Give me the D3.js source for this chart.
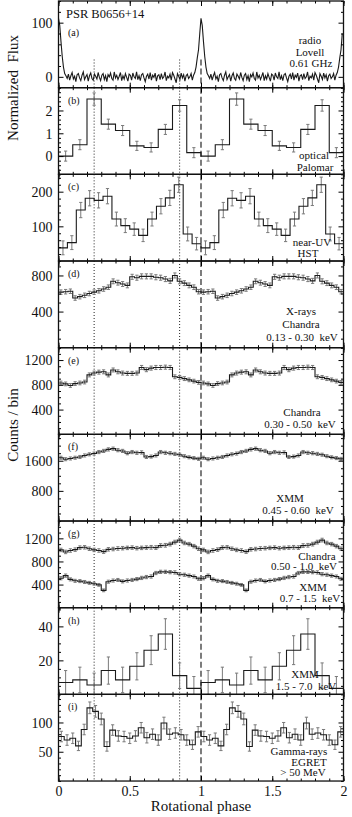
<!DOCTYPE html>
<html>
<head>
<meta charset="UTF-8">
<title>PSR B0656+14 pulse profiles</title>
<style>
  body { margin: 0; background: #fff; }
  svg text { font-family: "Liberation Serif", "DejaVu Serif", serif; fill: #111; }
  .band { font-size: 11px; white-space: pre; text-anchor: middle; }
  .panel-id { font-size: 10px; }
  .axis-title { font-size: 15px; text-anchor: middle; white-space: pre; }
  .frame { fill: none; stroke: #111; stroke-width: 1.3; }
  .hist { fill: none; stroke: #1a1a1a; stroke-width: 1.1; }
  .err { stroke: #7a7a7a; stroke-width: 1; }
</style>
<script src="https://d3js.org/d3.v7.min.js"></script>
</head>
<body>
<div id="chart"></div>
<script>
// phase axis
const phaseTicks = [0, 0.5, 1, 1.5, 2];
const phaseTickLabels = ["0", "0.5", "1", "1.5", "2"];
const dottedPhases = [0.25, 0.85];
const dashedPhase = 1;

// (a) radio, Lovell 0.61 GHz -- one rotation, drawn twice
const radioFlux = [108, 95, 65, 38, 18, 6, 2,
  -3, 5, -6, 2, 8, -4, 1, -9, 4, 6, -2, -7, 3, 9, -5, 0, 4, -8, 2, 7, -3, -6, 5,
  1, -4, 8, -1, -7, 3, 6, -5, 2, -9, 4, 0, 7, -3, -6, 9, -2, 3, -5, 1, 8, -7,
  2, -4, 6, -1, -8, 5, 3, -6, 7, 0, -3, 9, -5, 2, -7, 4, 6, -2, -9, 1, 5, -4,
  8, -6, 3, -1, 7, -8, 2, 4, -5, 6, -3, 0, 9, -7, 1, -2, 5, -6, 8, 3, -4, -11,
  6, 1, -5, 7, -2, 4, -8, 2, 5, -3, 0, 6, -6,
  3, 8, 18, 35, 50, 80];

// (b) optical, Palomar
const opticalFlux = [0, 0.5, 2.5, 1.4, 1.12, 0.45, 0.38, 1.17, 2.22, 0.15];
const opticalErr  = [0.22, 0.22, 0.27, 0.22, 0.22, 0.2, 0.2, 0.22, 0.25, 0.22];

// (c) near-UV, HST
const nuvCounts = [38, 53, 147, 181, 175, 187, 121, 102, 92, 74, 121, 158, 182, 220, 78, 50];
const nuvErr    = [20, 20, 22, 22, 22, 22, 20, 20, 18, 18, 20, 22, 22, 22, 20, 18];

// (d) Chandra 0.13 - 0.30 keV
const chandraSoft = [615, 620, 625, 550, 565, 580, 600, 615, 630, 650, 670, 735, 720, 705, 690,
  785, 775, 790, 790, 790, 780, 775, 760, 740, 800, 735, 715, 690, 670, 620];
const chandraSoftErr = [25, 25, 25, 25, 25, 25, 25, 25, 25, 25, 25, 27, 27, 27, 27,
  28, 28, 28, 28, 28, 28, 28, 28, 28, 28, 28, 27, 27, 26, 25];

// (e) Chandra 0.30 - 0.50 keV
const chandraMid = [830, 815, 790, 820, 830, 845, 960, 990, 1005, 1010, 960, 1040, 1010, 990, 985,
  985, 990, 1080, 1045, 1070, 1080, 1080, 1085, 1080, 930, 920, 900, 880, 860, 840];
const chandraMidErr = [30, 30, 30, 30, 30, 30, 32, 32, 32, 32, 32, 32, 32, 32, 32,
  32, 32, 33, 33, 33, 33, 33, 33, 33, 31, 31, 31, 30, 30, 30];

// (f) XMM 0.45 - 0.60 keV
const xmmSoft = [1680, 1640, 1660, 1680, 1700, 1740, 1770, 1790, 1830, 1860, 1900, 1920, 1880, 1860, 1800,
  1830, 1810, 1820, 1700, 1710, 1740, 1830, 1810, 1800, 1780, 1760, 1720, 1690, 1670, 1650];
const xmmSoftErr = [40, 40, 40, 40, 40, 40, 40, 40, 42, 42, 42, 42, 42, 42, 42,
  42, 42, 42, 40, 40, 40, 42, 42, 42, 42, 40, 40, 40, 40, 40];

// (g) Chandra 0.50 - 1.0 keV and XMM 0.7 - 1.5 keV
const chandraHard = [1000, 965, 990, 1005, 1040, 1045, 1020, 1000, 990, 970, 1010, 1015, 1025, 1030, 1035,
  1040, 1030, 1035, 1040, 1045, 1040, 1075, 1080, 1100, 1135, 1170, 1120, 1100, 1065, 1020];
const chandraHardErr = [30, 30, 30, 30, 30, 30, 30, 30, 30, 30, 30, 30, 30, 30, 30,
  30, 30, 30, 30, 32, 32, 32, 32, 32, 32, 32, 30, 30, 30, 30];
const xmmMid = [510, 555, 490, 465, 460, 445, 430, 415, 395, 300, 450, 470, 480, 455, 470,
  480, 495, 515, 530, 540, 600, 620, 620, 615, 610, 580, 570, 555, 540, 500];
const xmmMidErr = [28, 28, 26, 26, 26, 26, 25, 25, 24, 24, 26, 26, 26, 26, 27,
  27, 27, 28, 28, 28, 28, 28, 28, 28, 28, 28, 27, 27, 26, 26];

// (h) XMM 1.5 - 7.0 keV
const xmmHard = [7, 8.5, 5.5, 14, 8.5, 16.5, 26, 35.5, 11, 3.5];
const xmmHardErr = [7, 7.5, 7, 8, 7.5, 8, 8.5, 9, 7.5, 7];

// (i) EGRET > 50 MeV
const egretCounts = [76, 70, 73, 60, 88, 125, 119, 106, 59, 87, 77, 76, 73, 77, 91, 74, 80, 70,
  99, 80, 82, 79, 70, 62, 84];
const egretErr = [9, 9, 9, 8, 9, 10, 10, 10, 8, 9, 9, 9, 9, 9, 9, 9, 9, 9, 10, 9, 9, 9, 9, 8, 9];

// y axes
const panelIds = ["(a)", "(b)", "(c)", "(d)", "(e)", "(f)", "(g)", "(h)", "(i)"];
const yDomains = [[-20, 140], [-0.8, 3], [0, 250], [0, 960], [0, 1400], [0, 2300], [0, 1500], [0, 51], [0, 148]];
const yMajor = [[0, 100], [0, 1, 2], [100, 200], [400, 800], [400, 800, 1200], [800, 1600],
  [400, 800, 1200], [20, 40], [50, 100]];
const yMinorStep = [20, 0.2, 20, 100, 100, 200, 100, 5, 10];
const bandLabels = [
  ["radio", "Lovell", "0.61 GHz"],
  ["optical", "Palomar"],
  ["near-UV", "HST"],
  ["X-rays", "Chandra", "0.13 - 0.30  keV"],
  ["Chandra", "0.30 - 0.50  keV"],
  ["XMM", "0.45 - 0.60  keV"],
  ["Chandra", "0.50 - 1.0  keV", "XMM", "0.7 - 1.5  keV"],
  ["XMM", "1.5 - 7.0  keV"],
  ["Gamma-rays", "EGRET", "> 50 MeV"]
];

// label placement (absolute x centre, baseline y) for each panel
const bandPos = [
  [[310, 44], [310, 56], [311, 67]],
  [[314, 159], [315, 170.5]],
  [[312, 246], [308, 257]],
  [[301, 315], [301, 328], [302, 341]],
  [[302, 416], [300, 428]],
  [[290, 502], [298, 514]],
  [[317, 559.5], [304, 570], [313, 591], [310, 601.5]],
  [[305, 678], [306, 690]],
  [[299, 755], [309, 765.5], [303, 776]]
];

const series = [
  [{type: "line", values: radioFlux}],
  [{type: "hist", values: opticalFlux, err: opticalErr}],
  [{type: "hist", values: nuvCounts, err: nuvErr}],
  [{type: "hist", values: chandraSoft, err: chandraSoftErr}],
  [{type: "hist", values: chandraMid, err: chandraMidErr}],
  [{type: "hist", values: xmmSoft, err: xmmSoftErr}],
  [{type: "hist", values: chandraHard, err: chandraHardErr}, {type: "hist", values: xmmMid, err: xmmMidErr}],
  [{type: "hist", values: xmmHard, err: xmmHardErr}],
  [{type: "hist", values: egretCounts, err: egretErr}]
];

const margin = {top: 1, left: 58.5, right: 8.5};
const width = 352 - margin.left - margin.right;
const panelH = 86.67;

const svg = d3.select("#chart").append("svg")
    .attr("width", 352)
    .attr("height", 817);

const x = d3.scaleLinear().domain([0, 2]).range([0, width]);
const minorPhase = d3.range(0, 21).map(k => k / 10);

function histPoints(vals) {
  const n = vals.length;
  const pts = [];
  [0, 1].forEach(c => vals.forEach((v, k) => pts.push([c + k / n, v])));
  pts.push([2, vals[n - 1]]);
  return pts;
}

series.forEach((panelSeries, i) => {
  const top = margin.top + i * panelH;
  const g = svg.append("g").attr("transform", `translate(${margin.left},${top})`);
  const y = d3.scaleLinear().domain(yDomains[i]).range([panelH, 0]);

  g.append("clipPath").attr("id", "clip" + i)
    .append("rect").attr("width", width).attr("height", panelH);
  const plot = g.append("g").attr("clip-path", `url(#clip${i})`);

  // reference phases
  const refTop = i === 0 ? y(32) : 0;
  dottedPhases.forEach(p => {
    plot.append("line")
      .attr("x1", x(p)).attr("x2", x(p))
      .attr("y1", refTop).attr("y2", panelH)
      .attr("stroke", "#222").attr("stroke-width", 1)
      .attr("stroke-dasharray", "1,2");
  });
  plot.append("line")
    .attr("x1", x(dashedPhase)).attr("x2", x(dashedPhase))
    .attr("y1", refTop).attr("y2", panelH)
    .attr("stroke", "#111").attr("stroke-width", 1.1)
    .attr("stroke-dasharray", "6,3");

  panelSeries.forEach(s => {
    if (s.type === "line") {
      const n = s.values.length;
      const pts = [];
      [0, 1].forEach(c => s.values.forEach((v, k) => pts.push([c + k / n, v])));
      plot.append("path")
        .datum(pts)
        .attr("class", "hist")
        .attr("stroke-width", 0.9)
        .attr("d", d3.line().x(d => x(d[0])).y(d => y(d[1])));
      return;
    }
    const n = s.values.length;
    const bars = [];
    [0, 1].forEach(c => s.values.forEach((v, k) => bars.push({p: c + (k + 0.5) / n, v: v, e: s.err[k]})));
    const eb = plot.append("g").selectAll("g").data(bars).join("g");
    eb.append("line").attr("class", "err")
      .attr("x1", d => x(d.p)).attr("x2", d => x(d.p))
      .attr("y1", d => y(d.v - d.e)).attr("y2", d => y(d.v + d.e));
    [-1, 1].forEach(sgn => {
      eb.append("line").attr("class", "err")
        .attr("x1", d => x(d.p) - 1.6).attr("x2", d => x(d.p) + 1.6)
        .attr("y1", d => y(d.v + sgn * d.e)).attr("y2", d => y(d.v + sgn * d.e));
    });
    plot.append("path")
      .datum(histPoints(s.values))
      .attr("class", "hist")
      .attr("d", d3.line().x(d => x(d[0])).y(d => y(d[1])).curve(d3.curveStepAfter));
  });

  // ticks, all pointing inwards
  const d0 = yDomains[i][0], d1 = yDomains[i][1], st = yMinorStep[i];
  const minorY = d3.range(Math.ceil(d0 / st) * st, d1 + 1e-9, st)
    .filter(v => !yMajor[i].some(m => Math.abs(m - v) < 1e-9));

  const axes = [
    [d3.axisBottom(x).tickValues(phaseTicks).tickSize(-5), `translate(0,${panelH})`],
    [d3.axisBottom(x).tickValues(minorPhase).tickSize(-2.5), `translate(0,${panelH})`],
    [d3.axisTop(x).tickValues(phaseTicks).tickSize(-5), null],
    [d3.axisTop(x).tickValues(minorPhase).tickSize(-2.5), null],
    [d3.axisRight(y).tickValues(yMajor[i]).tickSize(-5), `translate(${width},0)`],
    [d3.axisRight(y).tickValues(minorY).tickSize(-2.5), `translate(${width},0)`],
    [d3.axisLeft(y).tickValues(minorY).tickSize(-2.5), null]
  ];
  axes.forEach(([ax, tr]) => {
    const a = g.append("g").call(ax.tickFormat("").tickSizeOuter(0));
    if (tr) a.attr("transform", tr);
    a.select(".domain").remove();
    a.selectAll("line").attr("stroke-width", 1);
  });

  const left = g.append("g")
    .call(d3.axisLeft(y).tickValues(yMajor[i]).tickSize(-5).tickSizeOuter(0).tickPadding(6).tickFormat(d3.format("~g")))
    .attr("font-family", null).attr("font-size", null);
  left.select(".domain").remove();
  left.selectAll("text").style("font-size", "14px").attr("dy", "0.34em");

  g.append("rect").attr("class", "frame").attr("width", width).attr("height", panelH);

  g.append("text").attr("class", "panel-id")
    .attr("x", 9.5).attr("y", i === 0 ? 34.5 : 16)
    .text(panelIds[i]);

  bandLabels[i].forEach((t, j) => {
    svg.append("text").attr("class", "band")
      .attr("x", bandPos[i][j][0]).attr("y", bandPos[i][j][1])
      .text(t);
  });

  if (i === series.length - 1) {
    const b = g.append("g").attr("transform", `translate(0,${panelH})`)
      .call(d3.axisBottom(x).tickValues(phaseTicks).tickSize(0).tickPadding(5)
        .tickFormat((d, k) => phaseTickLabels[k]))
      .attr("font-family", null).attr("font-size", null);
    b.select(".domain").remove();
    b.selectAll("text").style("font-size", "14px");
  }
});

svg.append("text")
  .attr("x", 66)
  .attr("y", 18)
  .style("font-size", "12.5px")
  .text("PSR B0656+14");

svg.append("text").attr("class", "axis-title")
  .attr("x", margin.left + width / 2).attr("y", 811)
  .text("Rotational phase");

svg.append("text").attr("class", "axis-title")
  .attr("transform", "translate(18,88) rotate(-90)")
  .text("Normalized  Flux");

svg.append("text").attr("class", "axis-title")
  .attr("transform", "translate(18,425) rotate(-90)")
  .text("Counts / bin");
</script>
</body>
</html>
